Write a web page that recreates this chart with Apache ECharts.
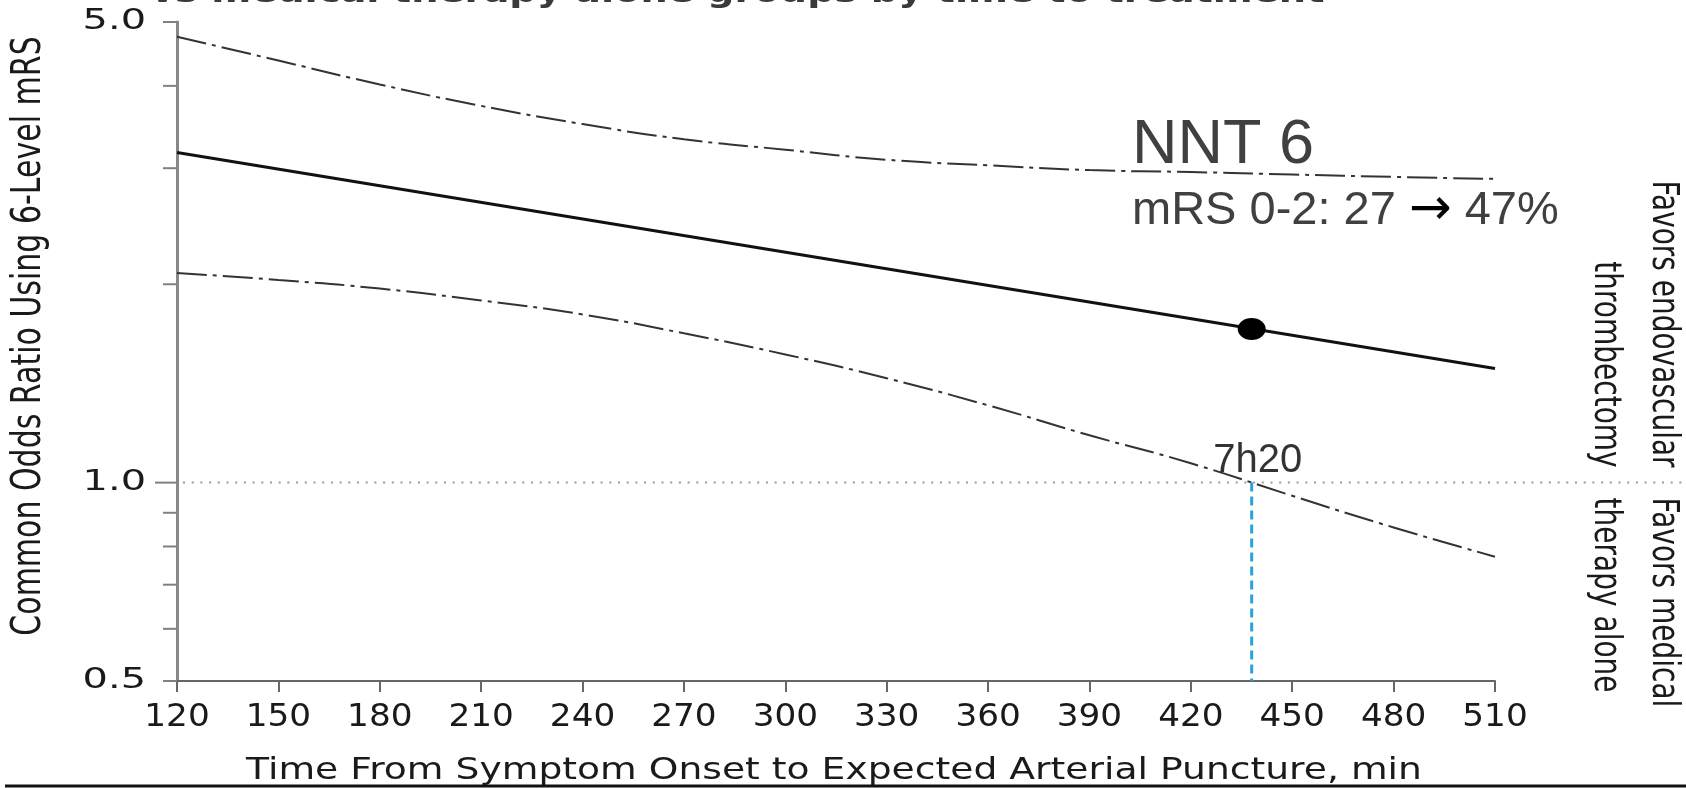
<!DOCTYPE html>
<html><head><meta charset="utf-8">
<script src="https://cdn.jsdelivr.net/npm/echarts/dist/echarts.min.js"></script>
<style>html,body{margin:0;padding:0;background:#fff}#c{width:1686px;height:788px}</style>
</head><body><div id="c"></div>
<script>
// ---- data ----
const xTicks = [120,150,180,210,240,270,300,330,360,390,420,450,480,510];
const yTickValues = [0.5,0.6,0.7,0.8,0.9,1,2,3,4,5];
const yTickLabels = ['0.5','','','','','1.0','','','','5.0'];
const curveTimes = [120,150,180,210,240,270,300,330,360,390,420,450,480,510];
const upperCI = [4.75,4.37,4.02,3.73,3.50,3.32,3.20,3.09,3.03,2.98,2.96,2.935,2.91,2.89];
const lowerCI = [2.08,2.03,1.97,1.89,1.80,1.685,1.565,1.44,1.31,1.18,1.07,0.955,0.855,0.772];
const effectTimes = [120,510];
const effectOR = [3.17,1.49];
const markerPoint = [438,1.71];
const crossingTime = 438;
const crossingLabel = '7h20';
const referenceOR = 1.0;
const axisMinOR = 0.5;
const titleText = 'vs medical therapy alone groups by time to treatment';
const xName = 'Time From Symptom Onset to Expected Arterial Puncture, min';
const yName = 'Common Odds Ratio Using 6-Level mRS';
const favorsUpper = ['Favors endovascular','thrombectomy'];
const favorsLower = ['Favors medical','therapy alone'];
const nntText = 'NNT 6';
const mrsText = ['mRS 0-2: 27 ','→',' 47%'];

const FONT = 'DejaVu Sans';
const chart = echarts.init(document.getElementById('c'), null, {renderer:'canvas'});

function renderYTick(params, api){
  const v = api.value(1);
  const p = api.coord([api.value(0), v]);
  const idx = api.value(2);
  const len = (v === referenceOR) ? 22 : 14;
  const ch = [{type:'line', shape:{x1:p[0]-len, y1:p[1], x2:p[0], y2:p[1]}, style:{stroke:'#808080', lineWidth:2}}];
  const t = yTickLabels[idx];
  if (t) ch.push({type:'text', x:p[0]-31, y:p[1], scaleX:1.45,
      style:{text:t, fontSize:27.5, fontFamily:FONT, fill:'#1a1a1a', align:'right', verticalAlign:'middle'}});
  return {type:'group', children:ch};
}
function renderXLabel(params, api){
  const p = api.coord([api.value(0), api.value(1)]);
  return {type:'text', x:p[0], y:p[1]+37, scaleX:1.07,
    style:{text:String(api.value(0)), fontSize:32, fontFamily:FONT, fill:'#1a1a1a', align:'center', verticalAlign:'middle'}};
}
function renderRef(params, api){
  const p = api.coord([api.value(0), api.value(1)]);
  const W = api.getWidth();
  const rot = -Math.PI/2;
  const ts = {fontSize:28, fontFamily:FONT, fill:'#1a1a1a', verticalAlign:'middle'};
  return {type:'group', children:[
    {type:'line', shape:{x1:p[0]+6, y1:p[1], x2:W, y2:p[1]}, style:{stroke:'#9a9a9a', lineWidth:2, lineDash:[2,6.7]}},
    {type:'text', x:1663, y:p[1]-15, rotation:rot, scaleY:1.35, style:Object.assign({text:favorsUpper[0], align:'right'}, ts)},
    {type:'text', x:1605, y:p[1]-15, rotation:rot, scaleY:1.35, style:Object.assign({text:favorsUpper[1], align:'right'}, ts)},
    {type:'text', x:1663, y:p[1]+15, rotation:rot, scaleY:1.35, style:Object.assign({text:favorsLower[0], align:'left'}, ts)},
    {type:'text', x:1605, y:p[1]+15, rotation:rot, scaleY:1.35, style:Object.assign({text:favorsLower[1], align:'left'}, ts)}
  ]};
}

const dash = [30,6,4,6];
const option = {
  animation:false,
  backgroundColor:'#fff',
  grid:{left:177, right:191, top:22, bottom:107, containLabel:false, outerBoundsMode:'none'},
  xAxis:{type:'value', min:120, max:510, interval:30,
    axisLine:{show:true, onZero:false, lineStyle:{color:'#666', width:2}},
    axisTick:{show:true, length:11, lineStyle:{color:'#666', width:2}},
    axisLabel:{show:false}, splitLine:{show:false}},
  yAxis:{type:'log', logBase:10, min:0.5, max:5,
    axisLine:{show:true, onZero:false, lineStyle:{color:'#888', width:3}},
    axisTick:{show:false}, axisLabel:{show:false}, splitLine:{show:false}, minorTick:{show:false}},
  graphic:[
    {type:'text', x:150, y:-5.2, scaleX:1.3, style:{text:titleText, fontSize:29.5, fontWeight:'bold', fontFamily:FONT, fill:'#3a3a3a', align:'left', verticalAlign:'middle'}},
    {type:'text', x:29, y:336, rotation:Math.PI/2, scaleY:1.38, style:{text:yName, fontSize:30, fontFamily:FONT, fill:'#1a1a1a', align:'center', verticalAlign:'middle'}},
    {type:'text', x:834, y:771, scaleX:1.215, style:{text:xName, fontSize:31, fontFamily:FONT, fill:'#1a1a1a', align:'center', verticalAlign:'middle'}},
    {type:'text', x:1132, y:145.2, style:{text:nntText, fontSize:63, fontFamily:'Liberation Sans', fill:'#404040', align:'left', verticalAlign:'middle'}},
    {type:'text', x:1132, y:210.7, style:{text:'{a|'+mrsText[0]+'}{b|'+mrsText[1]+'}{a|'+mrsText[2]+'}', fontSize:47, fontFamily:'Liberation Sans', fill:'#404040', align:'left', verticalAlign:'middle',
      rich:{a:{fontSize:47, fontFamily:'Liberation Sans', fill:'#404040'}, b:{fontSize:51, fontFamily:'DejaVu Sans', fill:'#000'}}}},
    {type:'rect', x:5, y:784.5, shape:{width:1681, height:3}, style:{fill:'#111'}}
  ],
  series:[
    {type:'custom', name:'refline', coordinateSystem:'cartesian2d', clip:false, silent:true, z:1,
      data:[[120, referenceOR]], encode:{x:0,y:1}, renderItem:renderRef},
    {type:'custom', name:'yticks', coordinateSystem:'cartesian2d', clip:false, silent:true, z:3,
      data:yTickValues.map((v,i)=>[120,v,i]), encode:{x:0,y:1}, renderItem:renderYTick},
    {type:'custom', name:'xlabels', coordinateSystem:'cartesian2d', clip:false, silent:true, z:3,
      data:xTicks.map(t=>[t, axisMinOR]), encode:{x:0,y:1}, renderItem:renderXLabel},
    {type:'line', name:'upper', data:curveTimes.map((t,i)=>[t,upperCI[i]]), smooth:true, symbol:'none', z:2,
      lineStyle:{color:'#333', width:2, type:dash}},
    {type:'line', name:'lower', data:curveTimes.map((t,i)=>[t,lowerCI[i]]), smooth:true, symbol:'none', z:2,
      lineStyle:{color:'#333', width:2, type:dash}},
    {type:'line', name:'effect', data:effectTimes.map((t,i)=>[t,effectOR[i]]), symbol:'none', z:3,
      lineStyle:{color:'#111', width:3, type:'solid'}},
    {type:'line', name:'crossing', data:[[crossingTime, referenceOR],[crossingTime, axisMinOR]], symbol:'none', z:2,
      lineStyle:{color:'#29a3dd', width:3, type:[9,5]}},
    {type:'scatter', name:'marker', data:[markerPoint], symbol:'circle', symbolSize:[28,22], z:4,
      itemStyle:{color:'#000', opacity:1}},
    {type:'scatter', name:'crosslabel', data:[[crossingTime, referenceOR]], symbolSize:0, z:4,
      label:{show:true, position:'top', distance:2, offset:[6,0], formatter:crossingLabel, fontSize:40, fontFamily:'Liberation Sans', color:'#000'}}
  ]
};
chart.setOption(option);
</script></body></html>
